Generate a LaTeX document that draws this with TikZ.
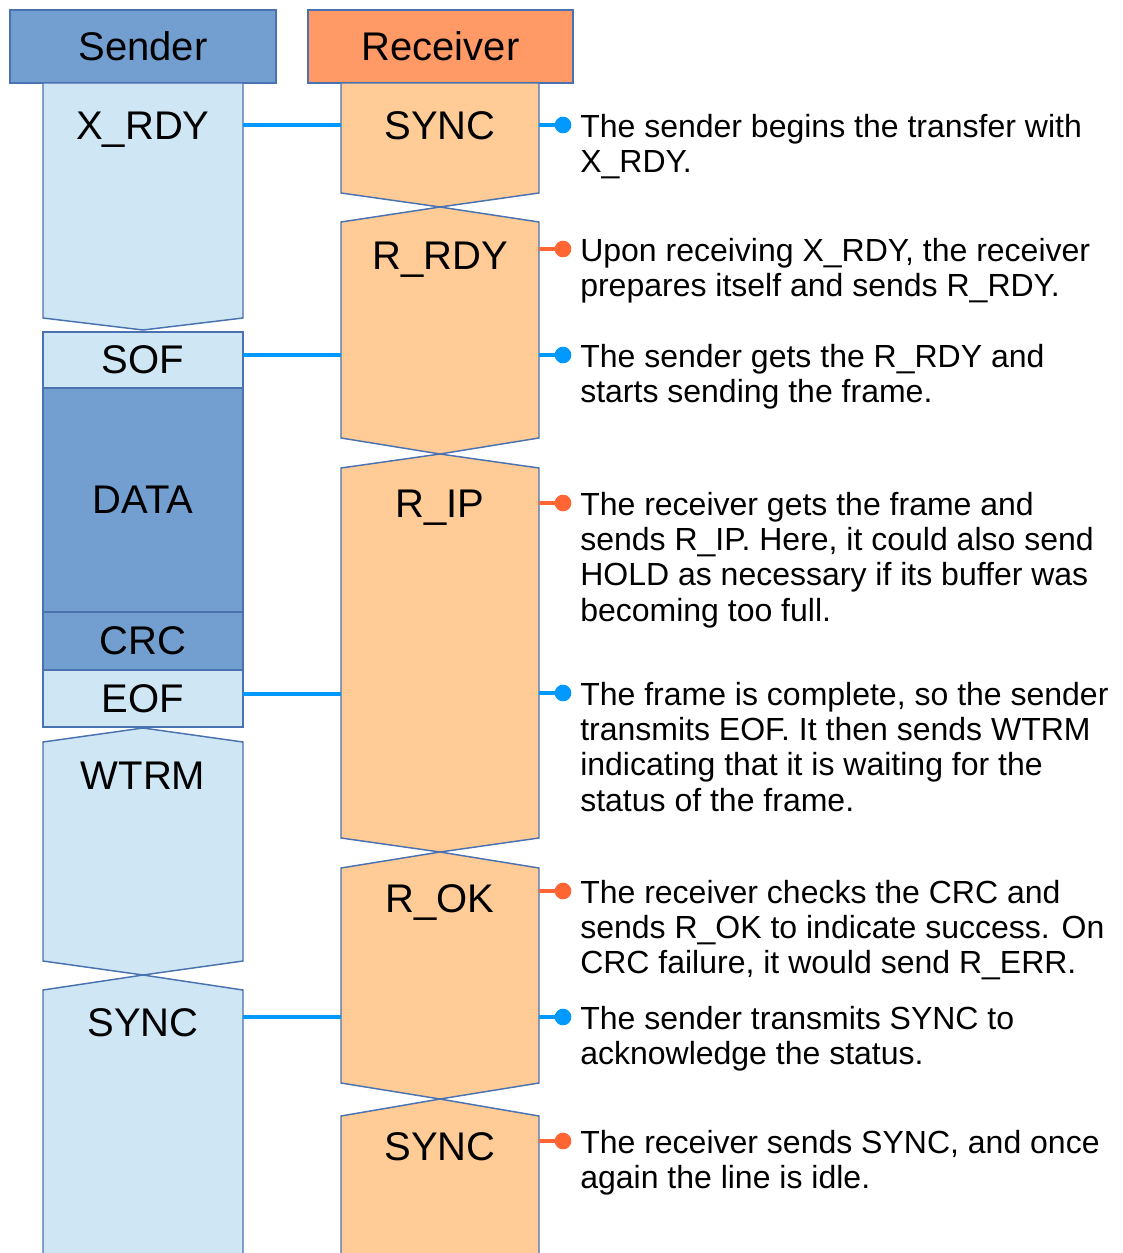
\documentclass[tikz,border=0pt]{standalone}
\usepackage{fontspec}
\setmainfont{Liberation Sans}
\definecolor{edge}{HTML}{4A72B0}
\definecolor{slight}{HTML}{CFE6F5}
\definecolor{sdarkc}{HTML}{729FCF}
\definecolor{rhead}{HTML}{FF9966}
\definecolor{rlight}{HTML}{FFCB96}
\definecolor{cblue}{HTML}{0099FF}
\definecolor{corange}{HTML}{FF6633}
\begin{document}
\begin{tikzpicture}[x=0.75pt,y=-0.75pt,
  sbox/.style={draw=edge, fill=slight, line width=1.1pt},
  sdark/.style={draw=edge, fill=sdarkc, line width=1.1pt},
  rbox/.style={draw=edge, fill=rlight, line width=1.1pt},
  lbl/.style={font=\fontsize{30}{34}\selectfont, anchor=base, inner sep=0},
  desc/.style={font=\fontsize{24}{26.5}\selectfont, anchor=base west, inner sep=0},
  bconn/.style={draw=cblue, line width=2.6pt},
  oconn/.style={draw=corange, line width=2.6pt},
  bdot/.style={circle, fill=cblue, minimum size=12.5pt, inner sep=0},
  odot/.style={circle, fill=corange, minimum size=12.5pt, inner sep=0}]
\useasboundingbox (0,0) rectangle (1123,1253);
\clip (0,0) rectangle (1123,1253);
% headers
\draw[sdark] (10,10) rectangle (276,83);
\draw[draw=edge, fill=rhead, line width=1.1pt] (308,10) rectangle (573,83);
\node[lbl] (hsend) at (143,60) {Sender};
\node[lbl] (hrecv) at (440.5,60) {Receiver};
% sender column
\draw[sbox] (43,83) -- (243,83) -- (243,318) -- (143,330) -- (43,318) -- cycle;
\draw[sbox] (43,332) rectangle (243,388);
\draw[sdark] (43,388) rectangle (243,612);
\draw[sdark] (43,612) rectangle (243,670);
\draw[sbox] (43,670) rectangle (243,727);
\draw[sbox] (43,742) -- (143,728) -- (243,742) -- (243,961) -- (143,975) -- (43,961) -- cycle;
\draw[sbox] (43,990) -- (143,975) -- (243,990) -- (243,1265) -- (43,1265) -- cycle;
% receiver column
\draw[rbox] (341,83) -- (539,83) -- (539,193) -- (440,207) -- (341,193) -- cycle;
\draw[rbox] (341,222) -- (440,207) -- (539,222) -- (539,438) -- (440,454) -- (341,438) -- cycle;
\draw[rbox] (341,468) -- (440,454) -- (539,468) -- (539,838) -- (440,852) -- (341,838) -- cycle;
\draw[rbox] (341,868) -- (440,852) -- (539,868) -- (539,1083) -- (440,1099) -- (341,1083) -- cycle;
\draw[rbox] (341,1116) -- (440,1099) -- (539,1116) -- (539,1265) -- (341,1265) -- cycle;
% labels
\node[lbl] (sxrdy) at (143,139) {X\_RDY};
\node[lbl] (ssof)  at (143,373) {SOF};
\node[lbl] (sdata) at (143,513) {DATA};
\node[lbl] (scrc)  at (143,654) {CRC};
\node[lbl] (seof)  at (143,712) {EOF};
\node[lbl] (swtrm) at (143,789) {WTRM};
\node[lbl] (ssync) at (143,1036) {SYNC};
\node[lbl] (rsynca) at (440,139) {SYNC};
\node[lbl] (rrdy)  at (440,269) {R\_RDY};
\node[lbl] (rip)   at (440,517) {R\_IP};
\node[lbl] (rok)   at (440,912) {R\_OK};
\node[lbl] (rsyncb) at (440,1160) {SYNC};
% connector end points
\coordinate (se1) at (243,125);  \coordinate (re1) at (341,125);
\coordinate (se2) at (243,355);  \coordinate (re2) at (341,355);
\coordinate (se3) at (243,694);  \coordinate (re3) at (341,694);
\coordinate (se4) at (243,1017); \coordinate (re4) at (341,1017);
\draw[bconn] (se1) -- (re1);
\draw[bconn] (se2) -- (re2);
\draw[bconn] (se3) -- (re3);
\draw[bconn] (se4) -- (re4);
% right connectors
\coordinate (rr1) at (539,125);
\coordinate (rr2) at (539,249);
\coordinate (rr3) at (539,355);
\coordinate (rr4) at (539,503);
\coordinate (rr5) at (539,693);
\coordinate (rr6) at (539,891);
\coordinate (rr7) at (539,1017);
\coordinate (rr8) at (539,1141);
\node[bdot] (d1) at (563,125) {};
\node[odot] (d2) at (563,249) {};
\node[bdot] (d3) at (563,355) {};
\node[odot] (d4) at (563,503) {};
\node[bdot] (d5) at (563,693) {};
\node[odot] (d6) at (563,891) {};
\node[bdot] (d7) at (563,1017) {};
\node[odot] (d8) at (563,1141) {};
\draw[bconn] (rr1) -- (d1.center);
\draw[oconn] (rr2) -- (d2.center);
\draw[bconn] (rr3) -- (d3.center);
\draw[oconn] (rr4) -- (d4.center);
\draw[bconn] (rr5) -- (d5.center);
\draw[oconn] (rr6) -- (d6.center);
\draw[bconn] (rr7) -- (d7.center);
\draw[oconn] (rr8) -- (d8.center);
% descriptions
\node[desc] (t1) at (580,137) {\begin{tabular}[t]{@{}l@{}}The sender begins the transfer with\\X\_RDY.\end{tabular}};
\node[desc] (t2) at (580,261) {\begin{tabular}[t]{@{}l@{}}Upon receiving X\_RDY, the receiver\\prepares itself and sends R\_RDY.\end{tabular}};
\node[desc] (t3) at (580,367) {\begin{tabular}[t]{@{}l@{}}The sender gets the R\_RDY and\\starts sending the frame.\end{tabular}};
\node[desc] (t4) at (580,515) {\begin{tabular}[t]{@{}l@{}}The receiver gets the frame and\\sends R\_IP. Here, it could also send\\HOLD as necessary if its buffer was\\becoming too full.\end{tabular}};
\node[desc] (t5) at (580,705) {\begin{tabular}[t]{@{}l@{}}The frame is complete, so the sender\\transmits EOF. It then sends WTRM\\indicating that it is waiting for the\\status of the frame.\end{tabular}};
\node[desc] (t6) at (580,903) {\begin{tabular}[t]{@{}l@{}}The receiver checks the CRC and\\sends R\_OK to indicate success. On\\CRC failure, it would send R\_ERR.\end{tabular}};
\node[desc] (t7) at (580,1029) {\begin{tabular}[t]{@{}l@{}}The sender transmits SYNC to\\acknowledge the status.\end{tabular}};
\node[desc] (t8) at (580,1153) {\begin{tabular}[t]{@{}l@{}}The receiver sends SYNC, and once\\again the line is idle.\end{tabular}};
\end{tikzpicture}
\end{document}
